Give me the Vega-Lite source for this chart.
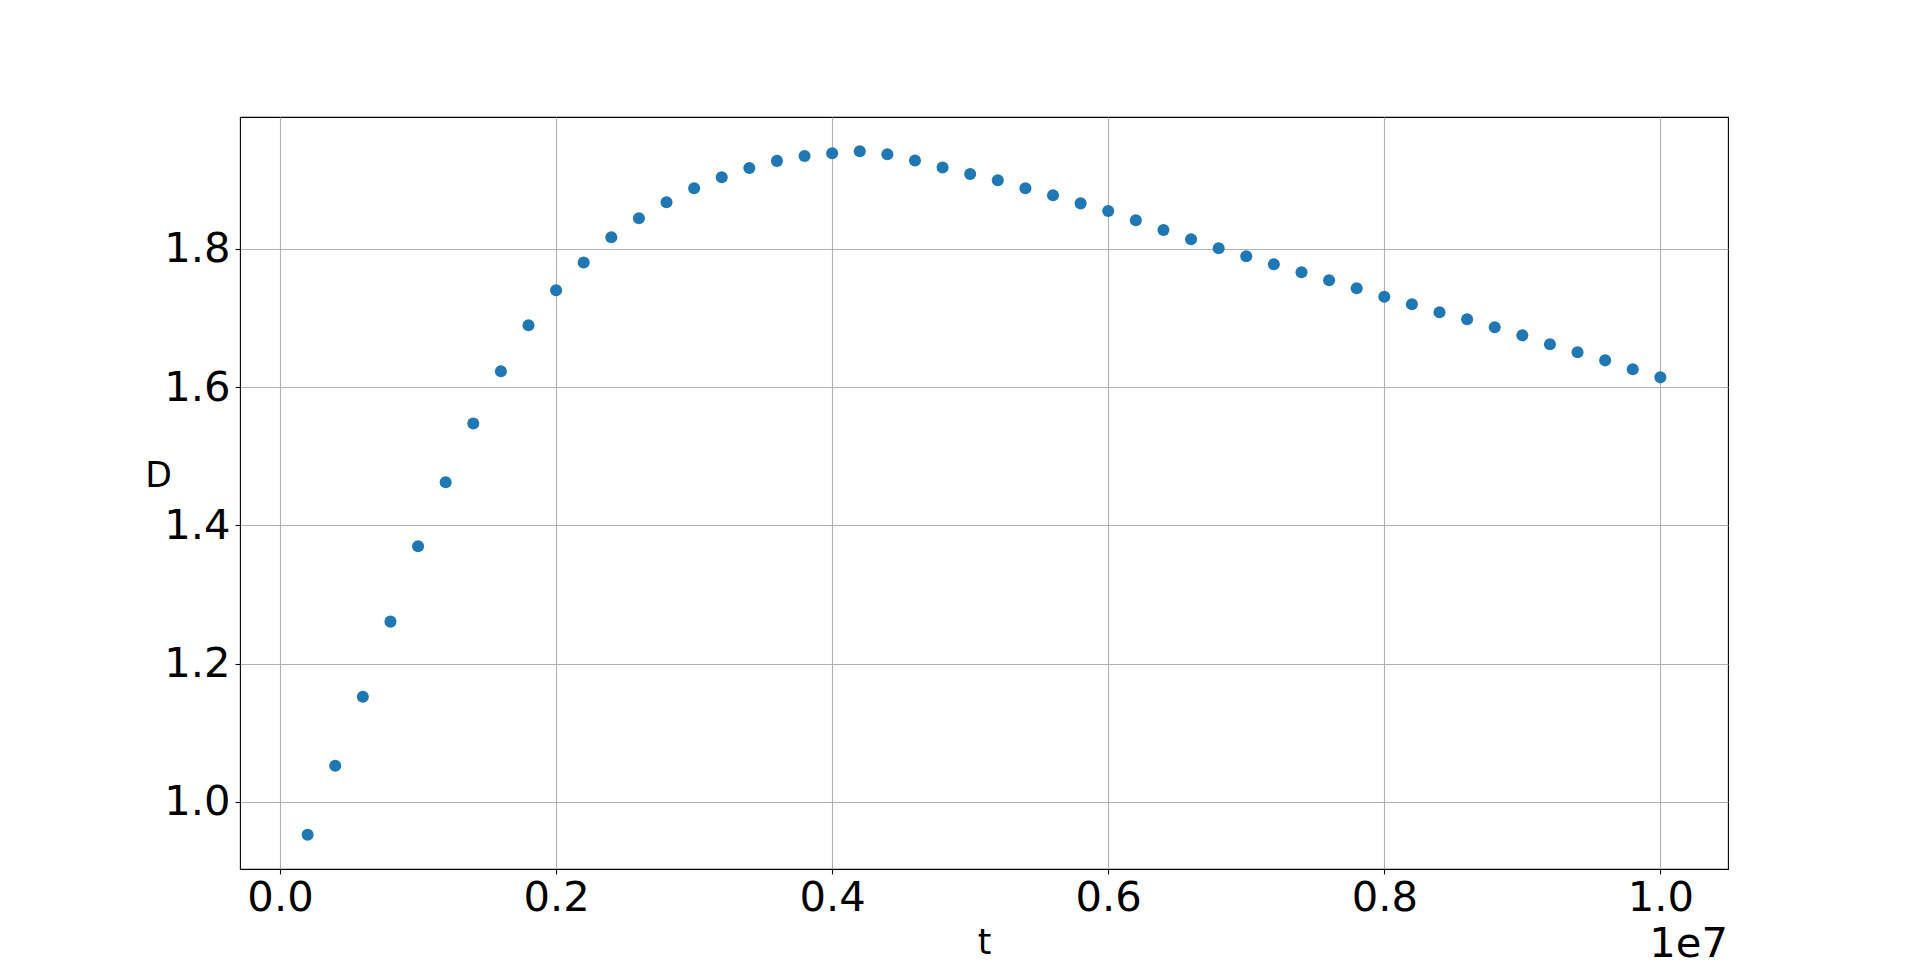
{
  "$schema": "https://vega.github.io/schema/vega-lite/v6.json",
  "autosize": {"type": "none"},
  "padding": {"left": 240, "top": 117, "right": 192, "bottom": 107},
  "width": 1488,
  "height": 752,
  "background": "white",
  "config": {
    "font": "DejaVu Sans",
    "view": {"stroke": "black", "strokeWidth": 1.1}
  },
  "title": {
    "text": "1e7",
    "orient": "bottom",
    "anchor": "end",
    "frame": "group",
    "baseline": "alphabetic",
    "offset": -3,
    "font": "DejaVu Sans",
    "fontSize": 41.7,
    "fontWeight": "normal",
    "color": "black"
  },
  "data": {
    "values": [
      {"t": 200000, "D": 0.9522},
      {"t": 400000, "D": 1.0521},
      {"t": 600000, "D": 1.1521},
      {"t": 800000, "D": 1.2607},
      {"t": 1000000, "D": 1.3698},
      {"t": 1200000, "D": 1.4625},
      {"t": 1400000, "D": 1.5475},
      {"t": 1600000, "D": 1.6229},
      {"t": 1800000, "D": 1.6895},
      {"t": 2000000, "D": 1.7402},
      {"t": 2200000, "D": 1.7805},
      {"t": 2400000, "D": 1.817},
      {"t": 2600000, "D": 1.8445},
      {"t": 2800000, "D": 1.8676},
      {"t": 3000000, "D": 1.8879},
      {"t": 3200000, "D": 1.9039},
      {"t": 3400000, "D": 1.9173},
      {"t": 3600000, "D": 1.9275},
      {"t": 3800000, "D": 1.9347},
      {"t": 4000000, "D": 1.9386},
      {"t": 4200000, "D": 1.9415},
      {"t": 4400000, "D": 1.937},
      {"t": 4600000, "D": 1.928},
      {"t": 4800000, "D": 1.918},
      {"t": 5000000, "D": 1.9086},
      {"t": 5200000, "D": 1.8995},
      {"t": 5400000, "D": 1.888},
      {"t": 5600000, "D": 1.8778},
      {"t": 5800000, "D": 1.866},
      {"t": 6000000, "D": 1.855},
      {"t": 6200000, "D": 1.8415},
      {"t": 6400000, "D": 1.8275},
      {"t": 6600000, "D": 1.814},
      {"t": 6800000, "D": 1.801},
      {"t": 7000000, "D": 1.7894},
      {"t": 7200000, "D": 1.7778},
      {"t": 7400000, "D": 1.7662},
      {"t": 7600000, "D": 1.7547},
      {"t": 7800000, "D": 1.7431},
      {"t": 8000000, "D": 1.7309},
      {"t": 8200000, "D": 1.7199},
      {"t": 8400000, "D": 1.7083},
      {"t": 8600000, "D": 1.6982},
      {"t": 8800000, "D": 1.6866},
      {"t": 9000000, "D": 1.675},
      {"t": 9200000, "D": 1.662},
      {"t": 9400000, "D": 1.6504},
      {"t": 9600000, "D": 1.6388},
      {"t": 9800000, "D": 1.6258},
      {"t": 10000000, "D": 1.6142}
    ]
  },
  "mark": {"type": "point", "filled": true, "opacity": 1, "color": "#1f77b4", "size": 145},
  "encoding": {
    "x": {
      "field": "t",
      "type": "quantitative",
      "scale": {"domain": [-290000, 10490000], "nice": false, "zero": false},
      "axis": {
        "values": [0, 2000000, 4000000, 6000000, 8000000, 10000000],
        "labelExpr": "format(datum.value / 10000000, '.1f')",
        "title": "t",
        "titleFont": "DejaVu Sans",
        "titleFontSize": 34.7,
        "titleFontWeight": "normal",
        "titleColor": "black",
        "titleX": 744,
        "titleY": 84,
        "titleAlign": "center",
        "titleBaseline": "alphabetic",
        "labelFont": "DejaVu Sans",
        "labelFontSize": 41.7,
        "labelColor": "black",
        "labelPadding": 4,
        "labelFlush": false,
        "labelOverlap": false,
        "domain": false,
        "ticks": true,
        "tickSize": 4.9,
        "tickWidth": 1.1,
        "tickColor": "black",
        "grid": true,
        "gridColor": "#b0b0b0",
        "gridWidth": 1.1
      }
    },
    "y": {
      "field": "D",
      "type": "quantitative",
      "scale": {"domain": [0.9027, 1.991], "nice": false, "zero": false},
      "axis": {
        "values": [1.0, 1.2, 1.4, 1.6, 1.8],
        "format": ".1f",
        "title": "D",
        "titleAngle": 0,
        "titleFont": "DejaVu Sans",
        "titleFontSize": 34.7,
        "titleFontWeight": "normal",
        "titleColor": "black",
        "titleX": -82,
        "titleY": 369,
        "titleAlign": "center",
        "titleBaseline": "alphabetic",
        "labelFont": "DejaVu Sans",
        "labelFontSize": 41.7,
        "labelColor": "black",
        "labelPadding": 5,
        "labelFlush": false,
        "labelOverlap": false,
        "domain": false,
        "ticks": true,
        "tickSize": 4.9,
        "tickWidth": 1.1,
        "tickColor": "black",
        "grid": true,
        "gridColor": "#b0b0b0",
        "gridWidth": 1.1
      }
    }
  }
}
